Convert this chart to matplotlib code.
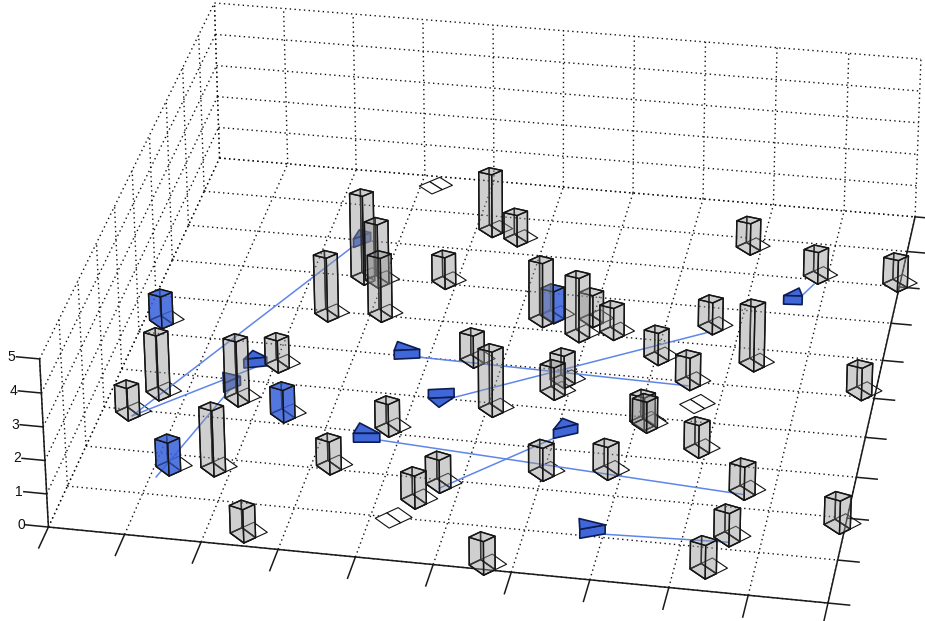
import numpy as np
import matplotlib
matplotlib.use("Agg")
import matplotlib.pyplot as plt
from mpl_toolkits.mplot3d import proj3d
from mpl_toolkits.mplot3d.art3d import Poly3DCollection

plt.rcParams['font.family'] = ['Liberation Sans', 'DejaVu Sans']

# grey bars, floor position of the front corner + height
bar_x = [2.54, 1.82, 1.75, 2.09, 0.40, 0.68, 3.29, 3.86, 4.53, 4.77, 5.67, 4.64, 5.11, 5.84, 5.92,
         6.03, 6.85, 8.34, 7.66, 7.06, 7.57, 7.13, 7.17, 7.93, 8.65, 8.61, 8.42, 9.95, 9.84, 9.99,
         8.89, 7.87, 2.47, 3.19, 2.76, 2.97, 3.88, 4.26, 4.65, 5.37, 5.92, 6.04, 6.37]
bar_y = [0.07, 1.55, 3.31, 4.26, 2.71, 3.28, 1.86, 2.91, 1.24, 1.67, -0.13, 4.84, 3.64, 4.21, 4.53,
         2.19, 2.36, 5.40, 6.27, 5.34, 4.77, 3.66, 3.60, 3.10, 2.19, 1.06, 0.27, 1.60, 4.91, 7.85,
         7.88, 8.52, 5.70, 5.82, 6.77, 6.72, 6.85, 8.39, 8.19, 6.06, 5.75, 6.18, 5.89]
bar_h = [1, 2, 2, 1, 1, 2, 1, 1, 1, 1, 1, 1, 2, 1, 1,
         1, 1, 2, 1, 1, 1, 1, 0.95, 1, 1, 1, 1, 1, 1, 1,
         1, 1, 2, 2, 2.8, 2, 1, 2, 1, 2, 2, 1, 1]

# blue bars
blue_x = [0.29, 1.24, 2.43, 5.50]
blue_y = [5.13, 1.47, 3.02, 6.19]
blue_h = [1, 1, 1, 1]

# plates with nothing on them
empty_x = [4.29, 7.71, 3.20]
empty_y = [0.74, 4.20, 9.48]

# blue wedges: corner, base edge, apex and the level the apex sits on
wedge_x = [3.55, 4.19, 3.43, 5.99, 6.72, 8.50, 1.61, 1.48, 2.41]
wedge_y = [4.89, 3.97, 2.71, 3.26, 0.93, 7.26, 4.31, 3.65, 7.78]
wedge_bx = [0.33, 0.33, 0.34, 0.29, 0.30, 0.25, 0.29, 0.18, 0.20]
wedge_by = [0.09, 0.09, 0.06, 0.19, 0.16, 0.03, 0.11, 0.22, 0.22]
wedge_ax = [0.00, 0.18, 0.03, 0.07, -0.05, 0.18, 0.07, -0.07, 0.03]
wedge_ay = [0.24, -0.20, 0.27, 0.30, 0.25, 0.24, 0.25, 0.28, 0.27]
wedge_az = [0.27, 0.0, 0.27, 0.27, 0.27, 0.27, 0.27, 0.27, 0.27]

# thin blue links on the floor
link_x0 = [0.42, 0.42, 1.08, 3.77, 3.89, 4.53, 5.99, 7.02, 8.71]
link_y0 = [2.85, 2.85, 1.42, 2.82, 5.00, 4.06, 3.26, 1.08, 7.51]
link_x1 = [2.47, 1.76, 1.55, 8.61, 7.53, 7.61, 4.74, 8.58, 8.84]
link_y1 = [7.99, 4.36, 3.75, 2.33, 4.89, 6.34, 1.79, 1.17, 7.87]

x_ticks = list(range(11))
y_ticks = list(range(11))
z_ticks = [0, 1, 2, 3, 4, 5]

# where the corners of the box land in the picture, used to set the camera
box_world = [(0, 0, 0), (10, 0, 0), (10, 10, 0), (0, 10, 0), (0, 0, 5), (0, 10, 5), (10, 10, 5)]
box_pixel = [(48, 527), (828, 603), (915, 217), (220, 158), (40, 359), (214, 3), (921, 59)]

W, H = 925, 621
BOTTOM = (W - H) / 2  # the 3d axes stay square, so they hang over top and bottom

rows, rhs = [], []
for (wx, wy, wz), (px, py) in zip(box_world, box_pixel):
    rows.append([wx, wy, wz, 1, 0, 0, 0, 0, -px*wx, -px*wy, -px*wz])
    rows.append([0, 0, 0, 0, wx, wy, wz, 1, -py*wx, -py*wy, -py*wz])
    rhs += [px, py]
sol = np.linalg.lstsq(np.array(rows, float), np.array(rhs, float), rcond=None)[0]
cam = np.append(sol, 1.0).reshape(3, 4)

fig = plt.figure(figsize=(W/100, H/100), dpi=100)
ax = fig.add_axes([0, -BOTTOM/H, 1, W/H], projection='3d')
ax.set_axis_off()
ax.computed_zorder = False


def get_proj():
    # fixed camera taken from the box corners, pixel -> 2d view of the axes
    x0, x1 = ax.viewLim.intervalx
    y0, y1 = ax.viewLim.intervaly
    sx = (x1-x0)/W
    sy = (y1-y0)/W
    M = np.array([cam[0], cam[1], [0, 1, -0.5, -20], cam[2]])
    A = np.eye(4)
    A[0, 0] = sx
    A[0, 3] = x0
    A[1, 1] = -sy
    A[1, 3] = y0 + sy*(H+BOTTOM)
    return A @ M


ax.get_proj = get_proj

DOT = dict(color='#111111', lw=1.0, ls=(0, (1, 2.4)), zorder=1)
AXIS = dict(color='#1a1a1a', lw=1.1, zorder=3)

for i in x_ticks:
    ax.plot([i, i], [0, 10], [0, 0], **DOT)
    ax.plot([i, i], [10, 10], [0, 5], **DOT)
for j in y_ticks:
    ax.plot([0, 10], [j, j], [0, 0], **DOT)
    ax.plot([0, 0], [j, j], [0, 5], **DOT)
for k in z_ticks:
    ax.plot([0, 10], [10, 10], [k, k], **DOT)
    ax.plot([0, 0], [0, 10], [k, k], **DOT)

ax.plot([0, 10], [0, 0], [0, 0], **AXIS)
ax.plot([10, 10], [0, 10], [0, 0], **AXIS)
ax.plot([0, 0], [0, 0], [0, 5], **AXIS)
for i in x_ticks:
    ax.plot([i, i], [0, -0.5], [0, 0], **AXIS)
for j in y_ticks:
    ax.plot([10, 10.27], [j, j], [0, 0], **AXIS)
for k in z_ticks:
    ax.plot([0, -0.3], [0, 0], [k, k], **AXIS)
    tx, ty, _ = proj3d.proj_transform(-0.31, 0, k, get_proj())
    ax.text2D(tx, ty, str(k), transform=ax.transData, ha='right', va='center',
              fontsize=10, color='#111111')

for i in range(len(link_x0)):
    ax.plot([link_x0[i], link_x1[i]], [link_y0[i], link_y1[i]], [0, 0],
            color='#5f86ea', lw=1.1, zorder=3.5)

LONG = np.array([0.24, 0.30])
SHORT = np.array([-0.22, 0.20])
TOP_DROP = 0.17  # back and left corners of a bar top sit a bit lower


def flat(p):
    return (p[0], p[1], 0)


def plate(x, y):
    f = np.array([x, y])
    m = f + LONG/2
    e = f + LONG
    quads = [[flat(f), flat(m), flat(m+SHORT), flat(f+SHORT)],
             [flat(m), flat(e), flat(e+SHORT), flat(m+SHORT)]]
    pc = Poly3DCollection(quads, facecolors='white', edgecolors='#111111', linewidths=0.8)
    pc.set_zorder(2.5 + (10-y)*0.01)
    ax.add_collection3d(pc)


def box(x, y, h, face):
    f = np.array([x, y])
    base = [f, f+LONG/2, f+LONG/2+SHORT, f+SHORT]
    low = [(p[0], p[1], 0) for p in base]
    levels = [h, h, h-TOP_DROP, h-TOP_DROP]
    top = [(p[0], p[1], lv) for p, lv in zip(base, levels)]
    faces = [low]
    for a in range(4):
        b = (a+1) % 4
        faces.append([low[a], low[b], top[b], top[a]])
    faces.append(top)
    pc = Poly3DCollection(faces, facecolors=[face], edgecolors='#151515', linewidths=1.0)
    pc.set_zorder(100.1 - 10*y)
    ax.add_collection3d(pc)


for x, y in zip(empty_x, empty_y):
    plate(x, y)
for x, y, h in zip(bar_x, bar_y, bar_h):
    plate(x, y)
    box(x, y, h, (0.58, 0.58, 0.58, 0.25))
for x, y, h in zip(blue_x, blue_y, blue_h):
    plate(x, y)
    box(x, y, h, (0.22, 0.38, 0.86, 0.62))

WEDGE_H = 0.27
for i in range(len(wedge_x)):
    x, y = wedge_x[i], wedge_y[i]
    bx, by = wedge_bx[i], wedge_by[i]
    ax_, ay_ = wedge_ax[i], wedge_ay[i]
    lv = wedge_az[i]
    side = [(x, y, 0), (x+bx, y+by, 0), (x+bx, y+by, WEDGE_H), (x, y, WEDGE_H)]
    tri = [(x, y, lv), (x+bx, y+by, lv), (x+ax_, y+ay_, lv)]
    pc = Poly3DCollection([tri, side], facecolors='#3f67d8', edgecolors='#0e1c55', linewidths=1.2)
    pc.set_zorder(100 - 10*y)
    ax.add_collection3d(pc)

fig.savefig('out.png', dpi=100)
